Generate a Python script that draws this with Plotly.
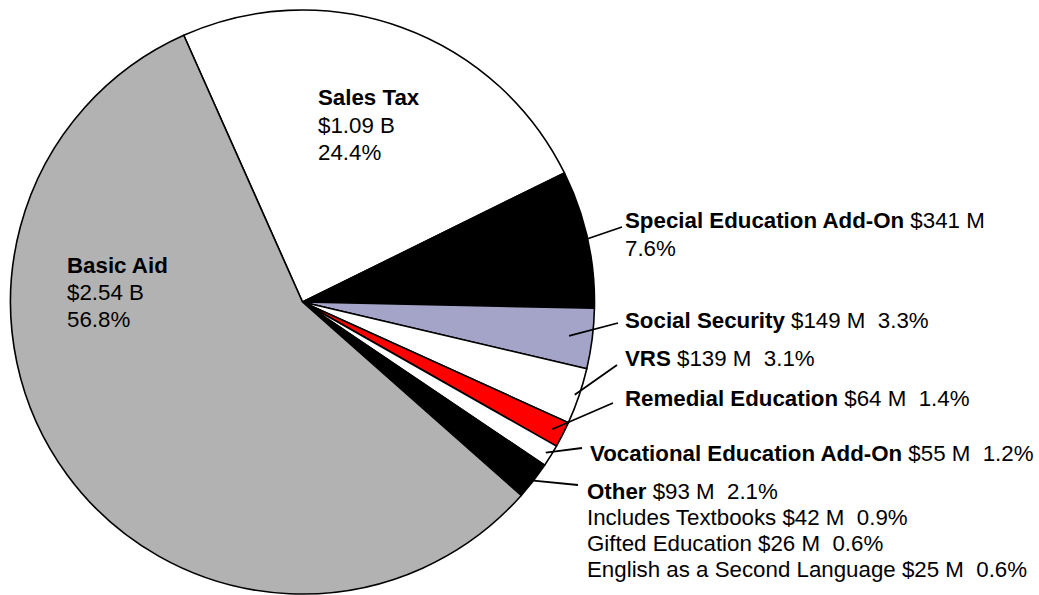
import math
import plotly.graph_objects as go

# ---------------- data ----------------
names = ["Sales Tax", "Special Education Add-On", "Social Security", "VRS",
         "Remedial Education", "Vocational Education Add-On", "Other", "Basic Aid"]
amounts_m = [1090, 341, 149, 139, 64, 55, 93, 2540]
amount_labels = ["$1.09 B", "$341 M", "$149 M", "$139 M", "$64 M", "$55 M", "$93 M", "$2.54 B"]
pct_labels = ["24.4%", "7.6%", "3.3%", "3.1%", "1.4%", "1.2%", "2.1%", "56.8%"]
colors = ["#ffffff", "#000000", "#a4a4c8", "#ffffff", "#ff0000", "#ffffff", "#000000", "#b2b2b2"]

other_items = ["Includes Textbooks", "Gifted Education", "English as a Second Language"]
other_amounts = ["$42 M", "$26 M", "$25 M"]
other_pcts = ["0.9%", "0.6%", "0.6%"]

# ---------------- layout constants ----------------
W, H = 1039, 595
CX, CY, R = 302.5, 302.0, 292.0
ROT = -24
FONT = "Liberation Sans, Arial, sans-serif"
FS = 22.3
SP = "\u00a0 "
DX = -2  # annotation padding compensation


def px(x, y):
    return x / W, 1 - y / H


fig = go.Figure(go.Pie(
    labels=names,
    values=amounts_m,
    sort=False,
    direction="clockwise",
    rotation=ROT,
    textinfo="none",
    hoverinfo="label+value+percent",
    marker=dict(colors=colors, line=dict(color="#000000", width=1.6)),
    domain=dict(x=[(CX - R) / W, (CX + R) / W], y=[1 - (CY + R) / H, 1 - (CY - R) / H]),
    showlegend=False,
))

annotations = []


def add_text(x, y, text):
    ax, ay = px(x + DX, y)
    annotations.append(dict(x=ax, y=ay, xref="paper", yref="paper", text=text,
                            showarrow=False, xanchor="left", yanchor="middle",
                            font=dict(family=FONT, size=FS, color="#000000")))


# in-slice labels (multi-line)
inside = {0: (318, [98, 125, 152]), 7: (67, [265, 292, 319])}
for i, (x, ys) in inside.items():
    for y, t in zip(ys, ["<b>%s</b>" % names[i], amount_labels[i], pct_labels[i]]):
        add_text(x, y, t)

# outside labels
add_text(625, 220, "<b>%s</b> %s" % (names[1], amount_labels[1]))
add_text(625, 248, pct_labels[1])
outside_pos = {2: (625, 320), 3: (625, 358), 4: (625, 398), 5: (590, 453), 6: (587, 491)}
for i, (x, y) in outside_pos.items():
    add_text(x, y, "<b>%s</b> %s%s%s" % (names[i], amount_labels[i], SP, pct_labels[i]))
for k, (n, a, p) in enumerate(zip(other_items, other_amounts, other_pcts)):
    add_text(587, 517 + 26.3 * k, "%s %s%s%s" % (n, a, SP, p))

# leader lines: inner end on the slice (from data angles), outer end at the label
total = sum(amounts_m)
cum = 0.0
mids = []
for v in amounts_m:
    mids.append(ROT + 360.0 * (cum + v / 2.0) / total)
    cum += v
leaders = {1: (1.0, (622, 227)), 2: (0.92, (618, 323)), 3: (0.985, (617, 365)),
           4: (0.96, (613, 403)), 5: (0.98, (582, 448)), 6: (1.0, (578, 485))}
shapes = []
for i, (f, (ox, oy)) in leaders.items():
    th = math.radians(mids[i])
    ix = CX + f * R * math.sin(th)
    iy = CY - f * R * math.cos(th)
    x0, y0 = px(ix, iy)
    x1, y1 = px(ox, oy)
    shapes.append(dict(type="line", xref="paper", yref="paper", x0=x0, y0=y0, x1=x1, y1=y1,
                       line=dict(color="#000000", width=1.8)))

fig.update_layout(
    width=W, height=H,
    margin=dict(l=0, r=0, t=0, b=0),
    paper_bgcolor="#ffffff",
    plot_bgcolor="#ffffff",
    annotations=annotations,
    shapes=shapes,
)

fig.write_html("out.html", config={"displayModeBar": False},
               post_script="document.body.style.margin='0';document.body.style.overflow='hidden';")
